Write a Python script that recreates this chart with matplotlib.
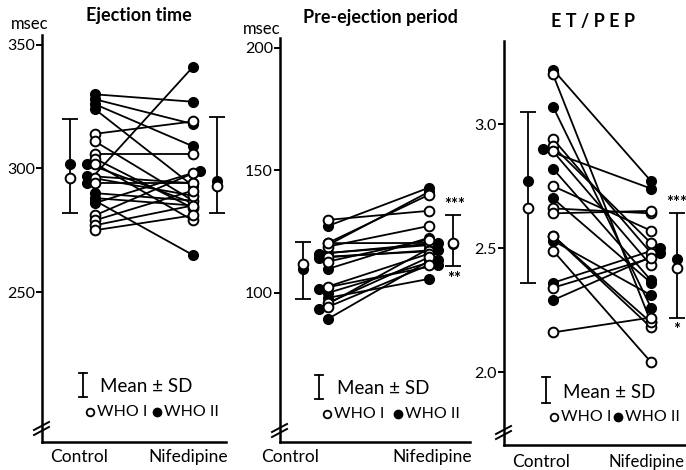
import matplotlib
matplotlib.use('Agg')
import matplotlib.pyplot as plt
from matplotlib.lines import Line2D

plt.rcParams['font.family'] = ['Lato', 'DejaVu Sans']

W, H = 686, 470

# Ejection time (msec): paired Control -> Nifedipine
et_ctrl_o = [314, 311, 306, 304, 302, 296, 294, 281, 279, 277, 275]
et_nif_o = [319, 287, 306, 284, 279, 289, 294, 298, 291, 285, 281]
et_ctrl_f = [330, 328, 326, 324, 302, 297, 294, 290, 288, 287, 286]
et_nif_f = [327, 318, 309, 293, 286, 294, 341, 287, 285, 265, 299]
et_mean_ctrl = [296, 302]      # WHO I, WHO II
et_sd_ctrl = [282, 320]
et_mean_nif = [293, 295]
et_sd_nif = [282, 321]

# Pre-ejection period (msec)
pep_ctrl_o = [129.8, 120.4, 118.9, 120.3, 114.8, 112.8, 102.6, 95.9, 94.3]
pep_nif_o = [133.5, 140.0, 127.3, 120.4, 117.0, 121.8, 116.0, 114.5, 111.4]
pep_ctrl_f = [127.3, 119.5, 116.3, 115.9, 114.3, 109.8, 100.0, 101.6, 93.5, 89.4, 98.0]
pep_nif_f = [142.9, 141.2, 119.5, 120.4, 117.6, 122.5, 113.5, 111.4, 118.0, 113.0, 105.7]
pep_mean_ctrl = [111.8, 109.8]
pep_sd_ctrl = [97.5, 120.8]
pep_mean_nif = [120.4, 120.0]
pep_sd_nif = [111.0, 131.8]

# ET / PEP
ratio_ctrl_o = [3.20, 2.94, 2.91, 2.89, 2.75, 2.66, 2.64, 2.55, 2.55, 2.49, 2.34, 2.16]
ratio_nif_o = [2.20, 2.48, 2.52, 2.43, 2.57, 2.64, 2.65, 2.18, 2.20, 2.04, 2.46, 2.22]
ratio_ctrl_f = [3.22, 3.07, 2.90, 2.82, 2.70, 2.53, 2.36, 2.29]
ratio_nif_f = [2.77, 2.26, 2.74, 2.37, 2.36, 2.31, 2.50, 2.48]
ratio_mean_ctrl = [2.66, 2.77]
ratio_sd_ctrl = [2.36, 3.05]
ratio_mean_nif = [2.42, 2.455]
ratio_sd_nif = [2.22, 2.64]

# sideways nudges of overlapping filled points (fraction of column gap)
et_shift_c = [0, 0, 0, 0, -0.08, -0.08, -0.08, 0, 0, 0, 0]
et_shift_n = [0, 0, 0, 0, 0, 0, 0, 0, 0, 0, 0.07]
pep_shift_c = [0, 0, 0, -0.09, -0.09, 0, 0, -0.09, -0.09, 0, 0]
pep_shift_n = [0, 0, 0, 0.09, 0.09, 0, 0.09, 0.09, 0, 0, 0]
ratio_shift_c = [0, 0, -0.1, 0, 0, 0, 0, 0]
ratio_shift_n = [0, 0, 0, 0, 0, 0, 0.09, 0.09]

fig = plt.figure(figsize=(W / 100, H / 100), dpi=100)


def px_axes(left, right, top, bottom):
    return fig.add_axes([left / W, 1 - bottom / H, (right - left) / W, (bottom - top) / H])


def fx(x):
    return x / W


def fy(y):
    return 1 - y / H


def draw_panel(ax, ctrl_o, nif_o, ctrl_f, nif_f, sh_c, sh_n, mean_c, sd_c, mean_n, sd_n, mx_c, mx_n):
    xc_f = [0 + s for s in sh_c]
    xn_f = [1 + s for s in sh_n]
    for a, b in zip(ctrl_o, nif_o):
        ax.plot([0, 1], [a, b], color='black', lw=1.3, zorder=2)
    for xa, xb, a, b in zip(xc_f, xn_f, ctrl_f, nif_f):
        ax.plot([xa, xb], [a, b], color='black', lw=1.3, zorder=2)
    ax.plot(xc_f, ctrl_f, 'o', ms=7, mfc='black', mec='black', zorder=3)
    ax.plot(xn_f, nif_f, 'o', ms=7, mfc='black', mec='black', zorder=3)
    ax.plot([0] * len(ctrl_o), ctrl_o, 'o', ms=7, mfc='white', mec='black', mew=1.4, zorder=4)
    ax.plot([1] * len(nif_o), nif_o, 'o', ms=7, mfc='white', mec='black', mew=1.4, zorder=4)
    # mean +/- SD
    for x, m, sd in [(mx_c, mean_c, sd_c), (mx_n, mean_n, sd_n)]:
        ax.errorbar([x], [(sd[0] + sd[1]) / 2], yerr=[[(sd[1] - sd[0]) / 2]], fmt='none',
                    ecolor='black', elinewidth=1.3, capsize=5.5, capthick=1.3, zorder=2)
        ax.plot([x], [m[1]], 'o', ms=7, mfc='black', mec='black', zorder=3)
        ax.plot([x], [m[0]], 'o', ms=7, mfc='white', mec='black', mew=1.4, zorder=4)
    ax.spines['top'].set_visible(False)
    ax.spines['right'].set_visible(False)
    for s in ['left', 'bottom']:
        ax.spines[s].set_linewidth(1.8)
    ax.tick_params(axis='y', direction='out', length=4, width=1.4, labelsize=11.5, pad=1)
    ax.set_xticks([])
    ax.set_facecolor('none')


def legend(x_bar, y_bar0, y_bar1, x_txt, y_txt, x_o, x_f, y_mk, x_o_txt, x_f_txt):
    fig.add_artist(Line2D([fx(x_bar)] * 2, [fy(y_bar0), fy(y_bar1)], color='black', lw=1.3))
    for yy in (y_bar0, y_bar1):
        fig.add_artist(Line2D([fx(x_bar - 4), fx(x_bar + 4)], [fy(yy)] * 2, color='black', lw=1.3))
    fig.text(fx(x_txt), fy(y_txt), 'Mean ± SD', fontsize=13.5, va='center', ha='left')
    fig.add_artist(Line2D([fx(x_o)], [fy(y_mk)], marker='o', ms=5.5, mfc='white', mec='black', mew=1.3))
    fig.add_artist(Line2D([fx(x_f)], [fy(y_mk)], marker='o', ms=6, mfc='black', mec='black'))
    fig.text(fx(x_o_txt), fy(y_mk), 'WHO I', fontsize=11.5, va='center', ha='left')
    fig.text(fx(x_f_txt), fy(y_mk), 'WHO II', fontsize=11.5, va='center', ha='left')


def axis_break(x, y):
    for dy in (0, 5):
        fig.add_artist(Line2D([fx(x - 8), fx(x + 7)], [fy(y + dy + 4), fy(y + dy - 4)],
                              color='black', lw=1.4))


# Panel 1: Ejection time
ax1 = px_axes(42, 226, 35, 442)
draw_panel(ax1, et_ctrl_o, et_nif_o, et_ctrl_f, et_nif_f, et_shift_c, et_shift_n,
           et_mean_ctrl, et_sd_ctrl, et_mean_nif, et_sd_nif, -0.255, 1.245)
ax1.set_xlim(-0.54, 1.34)
ax1.set_ylim(189.3, 354)
ax1.set_yticks([250, 300, 350])
fig.text(fx(139), fy(16), 'Ejection time', fontsize=13, fontweight='bold', ha='center', va='center')
fig.text(fx(30), fy(24), 'msec', fontsize=12, ha='center', va='center')
fig.text(fx(79), fy(457), 'Control', fontsize=12.5, ha='center', va='center')
fig.text(fx(188), fy(457), 'Nifedipine', fontsize=12.5, ha='center', va='center')
legend(83, 373, 397, 100, 386, 90, 157, 412, 97, 164)
axis_break(42, 426)

# Panel 2: Pre-ejection period
ax2 = px_axes(280, 470, 38, 442)
draw_panel(ax2, pep_ctrl_o, pep_nif_o, pep_ctrl_f, pep_nif_f, pep_shift_c, pep_shift_n,
           pep_mean_ctrl, pep_sd_ctrl, pep_mean_nif, pep_sd_nif, -0.25, 1.24)
ax2.set_xlim(-0.475, 1.41)
ax2.set_ylim(39.2, 204)
ax2.set_yticks([100, 150, 200])
fig.text(fx(380), fy(18), 'Pre-ejection period', fontsize=13, fontweight='bold', ha='center', va='center')
fig.text(fx(262), fy(29), 'msec', fontsize=12, ha='center', va='center')
fig.text(fx(290), fy(457), 'Control', fontsize=12.5, ha='center', va='center')
fig.text(fx(432), fy(457), 'Nifedipine', fontsize=12.5, ha='center', va='center')
fig.text(fx(455), fy(205), '***', fontsize=12, fontweight='bold', ha='center', va='center')
fig.text(fx(454), fy(279), '**', fontsize=12, fontweight='bold', ha='center', va='center')
legend(319, 375, 399, 337, 389, 327, 398, 414, 334, 405)
axis_break(280, 428)

# Panel 3: ET / PEP
ax3 = px_axes(504, 686, 41, 445)
draw_panel(ax3, ratio_ctrl_o, ratio_nif_o, ratio_ctrl_f, ratio_nif_f, ratio_shift_c, ratio_shift_n,
           ratio_mean_ctrl, ratio_sd_ctrl, ratio_mean_nif, ratio_sd_nif, -0.255, 1.265)
ax3.set_xlim(-0.5, 1.357)
ax3.set_ylim(1.706, 3.335)
ax3.set_yticks([2.0, 2.5, 3.0])
ax3.set_yticklabels(['2.0', '2.5', '3.0'])
fig.text(fx(593), fy(22), 'E T / P E P', fontsize=13, fontweight='bold', ha='center', va='center')
fig.text(fx(541), fy(462), 'Control', fontsize=12.5, ha='center', va='center')
fig.text(fx(684), fy(462), 'Nifedipine', fontsize=12, ha='right', va='center')
fig.text(fx(677), fy(203), '***', fontsize=12, fontweight='bold', ha='center', va='center')
fig.text(fx(677), fy(330), '*', fontsize=12, fontweight='bold', ha='center', va='center')
legend(546, 377, 403, 563, 392, 554, 618, 417, 561, 625)
axis_break(504, 430)

fig.savefig('out.png', dpi=100)
